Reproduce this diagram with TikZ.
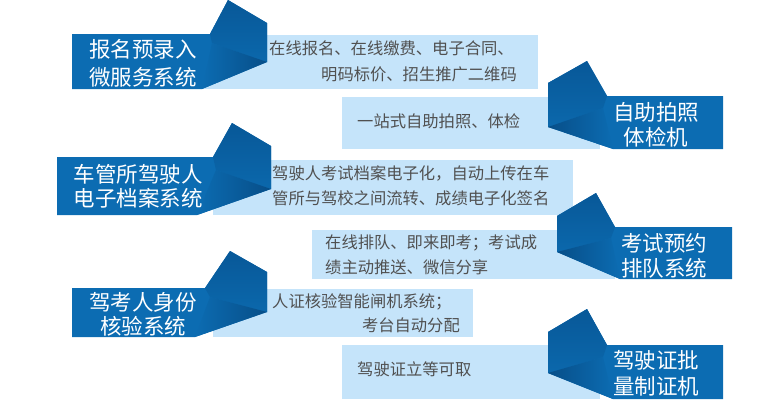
\documentclass[tikz,border=0pt]{standalone}
\usepackage{fontspec}
\newfontfamily\cjk{Noto Sans CJK SC}
\definecolor{mainblue}{RGB}{12,108,178}
\definecolor{flapdark}{RGB}{8,88,152}
\definecolor{flaplow}{RGB}{11,104,172}
\definecolor{tipdark}{RGB}{7,78,136}
\definecolor{lightbox}{RGB}{197,228,250}
\definecolor{desctext}{RGB}{80,80,80}
\tikzset{
  lbl/.style={text=white,font=\cjk\fontsize{21.5}{24}\selectfont,inner sep=0pt},
  desc/.style={text=desctext,font=\cjk\fontsize{16.3}{19}\selectfont,inner sep=0pt},
  lbox/.style={fill=lightbox},
}
\begin{document}
\begin{tikzpicture}[x=1pt,y=-1pt]
\useasboundingbox (0,0) rectangle (773,416);
% light boxes
\fill[lbox] (200,35) rectangle (538,89);
\fill[lbox] (342,97) rectangle (600,149);
\fill[lbox] (213,160) rectangle (573,215);
\fill[lbox] (312,230) rectangle (615,279);
\fill[lbox] (213,289) rectangle (473,337);
\fill[lbox] (342,345) rectangle (600,399);
% row 1 ribbon (left)
\fill[mainblue] (72,34) -- (210,34) -- (228,0) -- (267,23) -- (267,62) -- (202,89) -- (72,89) -- cycle;
\shade[top color=flapdark,bottom color=flaplow] (210,34) -- (228,0) -- (267,23) -- (267,62) -- (212,43) -- cycle;
\shade[left color=mainblue,right color=tipdark] (212,43) -- (267,62) -- (202,89) -- cycle;
% row 2 ribbon (right)
\fill[mainblue] (723,96) -- (607,96) -- (587,61) -- (548,83) -- (548,127) -- (613,149) -- (723,149) -- cycle;
\shade[top color=flapdark,bottom color=flaplow] (607,96) -- (587,61) -- (548,83) -- (548,127) -- (603,108) -- cycle;
\shade[left color=tipdark,right color=mainblue] (603,108) -- (548,127) -- (613,149) -- cycle;
% row 3 ribbon (left)
\fill[mainblue] (57,157) -- (213,157) -- (232,123) -- (271,146) -- (271,189) -- (197,215) -- (57,215) -- cycle;
\shade[top color=flapdark,bottom color=flaplow] (213,157) -- (232,123) -- (271,146) -- (271,189) -- (216,170) -- cycle;
\shade[left color=mainblue,right color=tipdark] (216,170) -- (271,189) -- (197,215) -- cycle;
% row 4 ribbon (right)
\fill[mainblue] (732,227) -- (615,227) -- (596,193) -- (557,216) -- (557,252) -- (620,279) -- (732,279) -- cycle;
\shade[top color=flapdark,bottom color=flaplow] (615,227) -- (596,193) -- (557,216) -- (557,252) -- (611,238) -- cycle;
\shade[left color=tipdark,right color=mainblue] (611,238) -- (557,252) -- (620,279) -- cycle;
% row 5 ribbon (left)
\fill[mainblue] (72,288) -- (205,288) -- (230,251) -- (267,272) -- (267,312) -- (195,337) -- (72,337) -- cycle;
\shade[top color=flapdark,bottom color=flaplow] (205,288) -- (230,251) -- (267,272) -- (267,312) -- (210,297) -- cycle;
\shade[left color=mainblue,right color=tipdark] (210,297) -- (267,312) -- (195,337) -- cycle;
% row 6 ribbon (right)
\fill[mainblue] (723,345) -- (607,345) -- (587,309) -- (548,332) -- (548,373) -- (613,399) -- (723,399) -- cycle;
\shade[top color=flapdark,bottom color=flaplow] (607,345) -- (587,309) -- (548,332) -- (548,373) -- (603,357) -- cycle;
\shade[left color=tipdark,right color=mainblue] (603,357) -- (548,373) -- (613,399) -- cycle;
% labels
\node[lbl] (l1a) at (143,49) {报名预录入};
\node[lbl] (l1b) at (143,77) {微服务系统};
\node[lbl] (l2a) at (656,112) {自助拍照};
\node[lbl] (l2b) at (656,137) {体检机};
\node[lbl] (l3a) at (138,174) {车管所驾驶人};
\node[lbl] (l3b) at (138,198) {电子档案系统};
\node[lbl] (l4a) at (664,243) {考试预约};
\node[lbl] (l4b) at (664,268) {排队系统};
\node[lbl] (l5a) at (143,302) {驾考人身份};
\node[lbl] (l5b) at (143,326) {核验系统};
\node[lbl] (l6a) at (656,360) {驾驶证批};
\node[lbl] (l6b) at (656,386) {量制证机};
% descriptions
\node[desc,anchor=west] (d1a) at (269,48) {在线报名、在线缴费、电子合同、};
\node[desc,anchor=west] (d1b) at (321,74) {明码标价、招生推广二维码};
\node[desc,anchor=west] (d2) at (357,121) {一站式自助拍照、体检};
\node[desc,anchor=west] (d3a) at (272,173) {驾驶人考试档案电子化，自动上传在车};
\node[desc,anchor=west] (d3b) at (272,198) {管所与驾校之间流转、成绩电子化签名};
\node[desc,anchor=west] (d4a) at (325,243) {在线排队、即来即考；考试成};
\node[desc,anchor=west] (d4b) at (325,267) {绩主动推送、微信分享};
\node[desc,anchor=west] (d5a) at (272,302) {人证核验智能闸机系统；};
\node[desc,anchor=east] (d5b) at (460,325) {考台自动分配};
\node[desc,anchor=west] (d6) at (357,369) {驾驶证立等可取};
\end{tikzpicture}
\end{document}
